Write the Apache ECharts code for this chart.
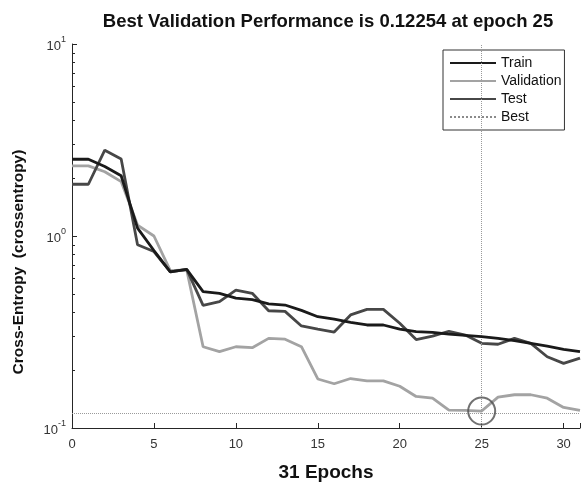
<!DOCTYPE html>
<html>
<head>
<meta charset="utf-8">
<script src="https://cdn.jsdelivr.net/npm/echarts@6/dist/echarts.min.js"></script>
<style>
html,body{margin:0;padding:0;background:#fff;}
#chart{width:584px;height:489px;}
</style>
</head>
<body>
<div id="chart"></div>
<script>
// ---- data ----
var epochs = [0,1,2,3,4,5,6,7,8,9,10,11,12,13,14,15,16,17,18,19,20,21,22,23,24,25,26,27,28,29,30,31];
var train = [2.51,2.51,2.30,2.06,1.10,0.84,0.65,0.67,0.513,0.503,0.475,0.466,0.443,0.437,0.41,0.38,0.369,0.355,0.344,0.344,0.327,0.318,0.315,0.308,0.304,0.299,0.293,0.285,0.276,0.267,0.257,0.25];
var validation = [2.32,2.32,2.16,1.92,1.14,1.0,0.66,0.665,0.265,0.25,0.265,0.262,0.293,0.29,0.265,0.18,0.17,0.181,0.176,0.176,0.165,0.146,0.143,0.1238,0.1235,0.12254,0.1447,0.149,0.149,0.143,0.128,0.1234];
var test = [1.86,1.86,2.80,2.52,0.90,0.83,0.65,0.67,0.435,0.455,0.522,0.503,0.408,0.405,0.34,0.327,0.316,0.388,0.415,0.415,0.351,0.289,0.301,0.319,0.305,0.276,0.273,0.293,0.276,0.235,0.217,0.231];
var bestEpoch = 25;
var bestValue = 0.12254;
var xTicks = [0,5,10,15,20,25,30];
var yMinor = [0.2,0.3,0.4,0.5,0.6,0.7,0.8,0.9,2,3,4,5,6,7,8,9];
var titleText = 'Best Validation Performance is 0.12254 at epoch 25';
var xName = '31 Epochs';
var yName = 'Cross-Entropy  (crossentropy)';

function pairs(ys){ return ys.map(function(v,i){ return [epochs[i], v]; }); }

var axisColor = '#262626';
var font = 'Liberation Sans, Arial, Helvetica, sans-serif';

var chart = echarts.init(document.getElementById('chart'), null, {renderer:'canvas'});
var option = {
  backgroundColor: '#ffffff',
  animation: false,
  textStyle: {fontFamily: font},
  title: {
    text: titleText,
    left: 323, top: 7, textAlign: 'center',
    textStyle: {fontSize: 18.5, fontWeight: 'bold', color: '#111', fontFamily: font}
  },
  legend: {
    data: ['Train','Validation','Test','Best'],
    orient: 'vertical',
    left: 443, top: 50,
    padding: [6,3,6,6],
    itemWidth: 46, itemHeight: 14, itemGap: 4,
    itemStyle: {opacity: 0},
    borderColor: '#333', borderWidth: 1, backgroundColor: '#fff',
    textStyle: {fontSize: 14, color: '#111', fontFamily: font}
  },
  grid: {left: 72, right: 4, top: 44, bottom: 61},
  xAxis: {
    type: 'value', min: 0, max: 31, interval: 5,
    name: xName, nameLocation: 'middle', nameGap: 35,
    nameTextStyle: {fontSize: 19, fontWeight: 'bold', color: '#111', fontFamily: font},
    axisLine: {show: true, lineStyle: {color: axisColor, width: 1}},
    axisTick: {show: true, inside: true, length: 5, lineStyle: {color: axisColor}},
    axisLabel: {fontSize: 13, color: '#333', margin: 10, fontFamily: font,
      customValues: xTicks},
    splitLine: {show: false}
  },
  yAxis: [{
    type: 'log', logBase: 10, min: 0.1, max: 10,
    name: yName, nameLocation: 'middle', nameGap: 45,
    nameTextStyle: {fontSize: 15.5, fontWeight: 'bold', color: '#111', fontFamily: font, padding: [0, 52, 0, 0]},
    axisLine: {show: true, lineStyle: {color: axisColor, width: 1}},
    axisTick: {show: true, inside: true, length: 5, lineStyle: {color: axisColor}},
    axisLabel: {
      margin: 6, color: '#333',
      formatter: function(v){
        var e = Math.round(Math.log(v)/Math.LN10);
        return '{b|10}{s|' + e + '}';
      },
      rich: {
        b: {fontSize: 13, color: '#333', fontFamily: font, lineHeight: 18, verticalAlign: 'bottom'},
        s: {fontSize: 9, color: '#333', fontFamily: font, lineHeight: 18, verticalAlign: 'top'}
      }
    },
    splitLine: {show: false}
  }, {
    type: 'log', logBase: 10, min: 0.1, max: 10, position: 'left',
    axisLine: {show: false},
    axisTick: {show: true, inside: true, length: 3, lineStyle: {color: axisColor}, customValues: yMinor},
    axisLabel: {show: false},
    splitLine: {show: false}
  }],
  series: [
    {name: 'Train', type: 'line', data: pairs(train), symbol: 'none',
      lineStyle: {color: '#1a1a1a', width: 2.8}, itemStyle: {color: '#1a1a1a'}, z: 5},
    {name: 'Validation', type: 'line', data: pairs(validation), symbol: 'none',
      lineStyle: {color: '#a3a3a3', width: 2.8}, itemStyle: {color: '#a3a3a3'}, z: 3},
    {name: 'Test', type: 'line', data: pairs(test), symbol: 'none',
      lineStyle: {color: '#474747', width: 2.8}, itemStyle: {color: '#474747'}, z: 4},
    {name: 'Best', type: 'line', data: [], symbol: 'none',
      lineStyle: {color: '#8a8a8a', width: 1, type: 'dotted'}, itemStyle: {color: '#8a8a8a'},
      markLine: {
        silent: true, symbol: 'none', label: {show: false},
        lineStyle: {color: '#9a9a9a', width: 1, type: 'dotted'},
        data: [{xAxis: bestEpoch}, {yAxis: bestValue}]
      }, z: 2},
    {name: 'BestPoint', type: 'scatter', data: [[bestEpoch, bestValue]],
      symbol: 'circle', symbolSize: 27,
      itemStyle: {color: 'rgba(0,0,0,0)', borderColor: '#4d4d4d', borderWidth: 2}, z: 6}
  ]
};
chart.setOption(option);
</script>
</body>
</html>
